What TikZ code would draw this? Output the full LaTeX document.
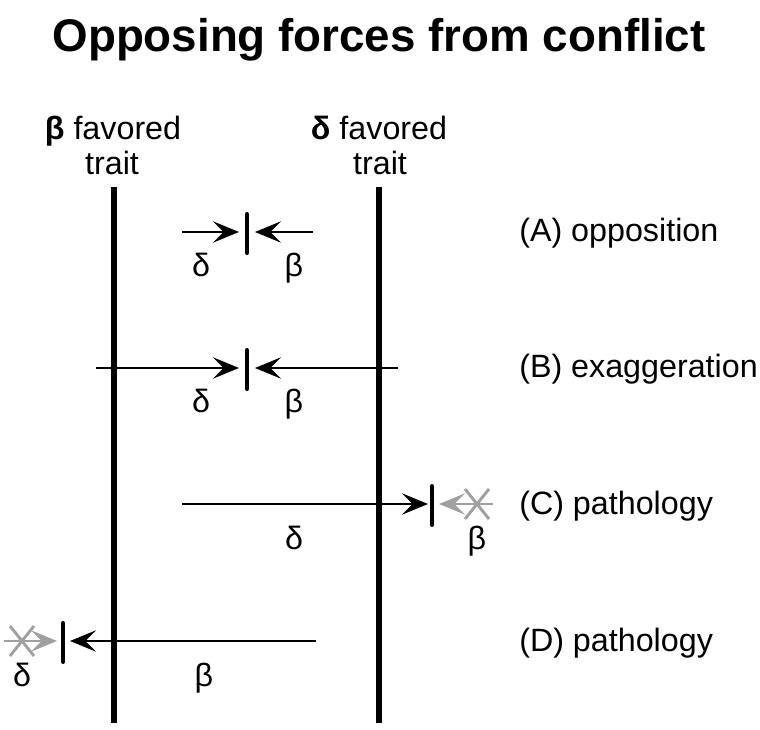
\documentclass[tikz,border=0pt]{standalone}
\usepackage{fontspec}
\setmainfont{Liberation Sans}
\usetikzlibrary{arrows.meta}
\definecolor{xgray}{RGB}{160,160,160}
\tikzset{
  lbl/.style={font=\fontsize{24.2}{28}\selectfont, inner sep=0pt},
  axisline/.style={line width=3.8pt},
  force/.style={line width=2.2pt, -{Stealth[length=19.5pt,width=16pt,inset=8pt]}},
  blocked/.style={force, draw=xgray},
  xmark/.style={line width=2.2pt, draw=xgray},
  tickmark/.style={line width=3pt, line cap=round},
}
\begin{document}
\begin{tikzpicture}[x=0.75pt,y=-0.75pt]
\useasboundingbox (0,0) rectangle (760,730);
% title
\node[inner sep=0pt, anchor=base, font=\fontsize{34.3}{40}\selectfont\bfseries] (title) at (379,52) {Opposing forces from conflict};
% column headers
\node[lbl, anchor=base] (bfav) at (113,140) {\textbf{β} favored};
\node[lbl, anchor=base] (btrait) at (112,175) {trait};
\node[lbl, anchor=base] (dfav) at (379,140) {\textbf{δ} favored};
\node[lbl, anchor=base] (dtrait) at (380,175) {trait};
% vertical lines
\coordinate (L1) at (114,187); \coordinate (L2) at (114,723);
\coordinate (R1) at (379,187); \coordinate (R2) at (379,723);
\draw[axisline] (L1) -- (L2);
\draw[axisline] (R1) -- (R2);
% row A
\coordinate (a1) at (182,232); \coordinate (a2) at (239,232);
\coordinate (a3) at (313,232); \coordinate (a4) at (255,232);
\coordinate (at1) at (247,214); \coordinate (at2) at (247,253);
\draw[force] (a1) -- (a2);
\draw[force] (a3) -- (a4);
\draw[tickmark] (at1) -- (at2);
\node[lbl, anchor=base] (ad) at (201,277) {δ};
\node[lbl, anchor=base] (ab) at (294,277) {β};
\node[lbl, anchor=base west] (alab) at (519,242) {(A) opposition};
% row B
\coordinate (b1) at (96,368); \coordinate (b2) at (239,368);
\coordinate (b3) at (398,368); \coordinate (b4) at (255,368);
\coordinate (bt1) at (247,350); \coordinate (bt2) at (247,389);
\draw[force] (b1) -- (b2);
\draw[force] (b3) -- (b4);
\draw[tickmark] (bt1) -- (bt2);
\node[lbl, anchor=base] (bd) at (201,413) {δ};
\node[lbl, anchor=base] (bb) at (294,413) {β};
\node[lbl, anchor=base west] (blab) at (519,378) {(B) exaggeration};
% row C
\coordinate (c1) at (182,504); \coordinate (c2) at (428,504);
\coordinate (c3) at (493,504); \coordinate (c4) at (439,504);
\coordinate (ct1) at (432,486); \coordinate (ct2) at (432,525);
\coordinate (cx1) at (465,489); \coordinate (cx2) at (489,519);
\coordinate (cx3) at (465,519); \coordinate (cx4) at (489,489);
\draw[force] (c1) -- (c2);
\draw[blocked] (c3) -- (c4);
\draw[xmark] (cx1) -- (cx2);
\draw[xmark] (cx3) -- (cx4);
\draw[tickmark] (ct1) -- (ct2);
\node[lbl, anchor=base] (cd) at (294,549) {δ};
\node[lbl, anchor=base] (cb) at (477,549) {β};
\node[lbl, anchor=base west] (clab) at (519,514) {(C) pathology};
% row D
\coordinate (d1) at (316,641); \coordinate (d2) at (70,641);
\coordinate (d3) at (4,641); \coordinate (d4) at (57,641);
\coordinate (dt1) at (63,623); \coordinate (dt2) at (63,662);
\coordinate (dx1) at (10,626); \coordinate (dx2) at (34,656);
\coordinate (dx3) at (10,656); \coordinate (dx4) at (34,626);
\draw[force] (d1) -- (d2);
\draw[blocked] (d3) -- (d4);
\draw[xmark] (dx1) -- (dx2);
\draw[xmark] (dx3) -- (dx4);
\draw[tickmark] (dt1) -- (dt2);
\node[lbl, anchor=base] (dd) at (22,686) {δ};
\node[lbl, anchor=base] (db) at (204,686) {β};
\node[lbl, anchor=base west] (dlab) at (519,651) {(D) pathology};
\end{tikzpicture}
\end{document}
